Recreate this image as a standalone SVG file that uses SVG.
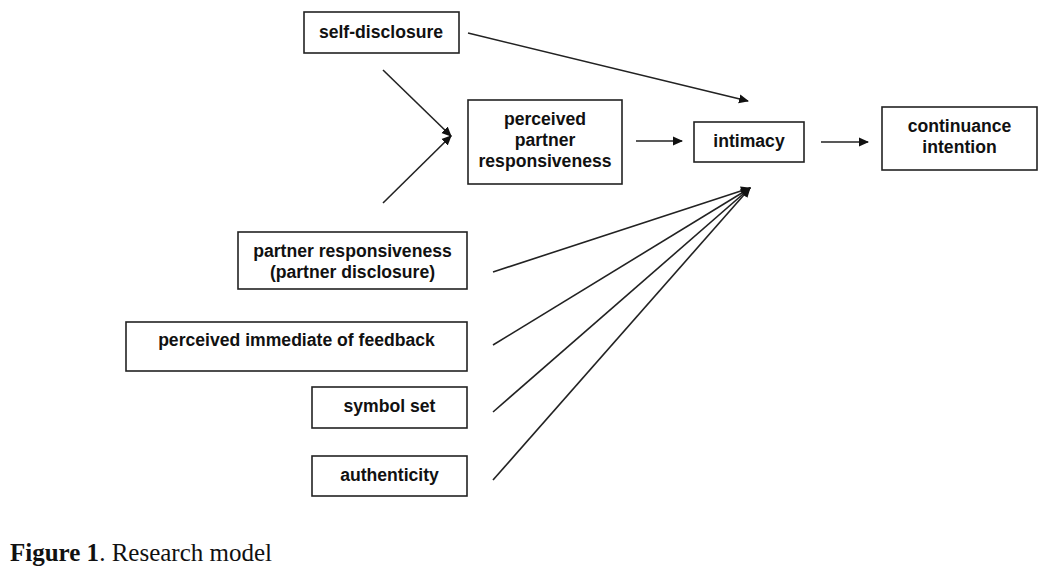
<svg xmlns="http://www.w3.org/2000/svg" width="1057" height="571" viewBox="0 0 1057 571">
<style>
.box{fill:#fff;stroke:#222;stroke-width:1.6}
.t{font-family:"Liberation Sans",Arial,sans-serif;font-weight:bold;font-size:17.6px;fill:#111;text-anchor:middle}
.c line{stroke:#222;stroke-width:1.6;fill:none}
.cap{font-family:"Liberation Serif","Times New Roman",serif;font-size:25px;fill:#111}
</style>
<defs>
<marker id="ah" markerWidth="10" markerHeight="10" refX="9" refY="5" orient="auto" markerUnits="userSpaceOnUse">
<path d="M0,0.5 L10,5 L0,9.5 Z" fill="#111"/>
</marker>
</defs>
<rect width="1057" height="571" fill="#fff"/>
<g class="c" id="connectors">
<line x1="468" y1="33" x2="748" y2="101" marker-end="url(#ah)"/>
<line x1="383" y1="70" x2="451" y2="136" marker-end="url(#ah)"/>
<line x1="383" y1="203" x2="451" y2="136" marker-end="url(#ah)"/>
<line x1="636" y1="141" x2="682" y2="141" marker-end="url(#ah)"/>
<line x1="821" y1="142" x2="868" y2="142" marker-end="url(#ah)"/>
<line x1="493" y1="272" x2="750" y2="188" marker-end="url(#ah)"/>
<line x1="493" y1="345" x2="750" y2="188" marker-end="url(#ah)"/>
<line x1="493" y1="412" x2="750" y2="188" marker-end="url(#ah)"/>
<line x1="493" y1="480" x2="750" y2="188" marker-end="url(#ah)"/>
</g>
<g id="self-disclosure"><rect class="box" x="304" y="12" width="155" height="41"/><text class="t" x="381" y="38">self-disclosure</text></g>
<g id="ppr"><rect class="box" x="468" y="100" width="154" height="84"/><text class="t" x="545" y="125">perceived</text><text class="t" x="545" y="146">partner</text><text class="t" x="545" y="167">responsiveness</text></g>
<g id="intimacy"><rect class="box" x="694" y="122" width="110" height="40"/><text class="t" x="749" y="147">intimacy</text></g>
<g id="continuance"><rect class="box" x="882" y="107" width="155" height="63"/><text class="t" x="959.5" y="132">continuance</text><text class="t" x="959.5" y="153">intention</text></g>
<g id="partner-resp"><rect class="box" x="238" y="232" width="229" height="57"/><text class="t" x="352.5" y="257">partner responsiveness</text><text class="t" x="352.5" y="278">(partner disclosure)</text></g>
<g id="immediacy"><rect class="box" x="126" y="322" width="341" height="49"/><text class="t" x="296.5" y="346">perceived immediate of feedback</text></g>
<g id="symbol"><rect class="box" x="312" y="387" width="155" height="41"/><text class="t" x="389.5" y="412">symbol set</text></g>
<g id="authenticity"><rect class="box" x="312" y="456" width="155" height="40"/><text class="t" x="389.5" y="481">authenticity</text></g>
<text class="cap" x="10" y="561"><tspan font-weight="bold">Figure 1</tspan>. Research model</text>
</svg>
